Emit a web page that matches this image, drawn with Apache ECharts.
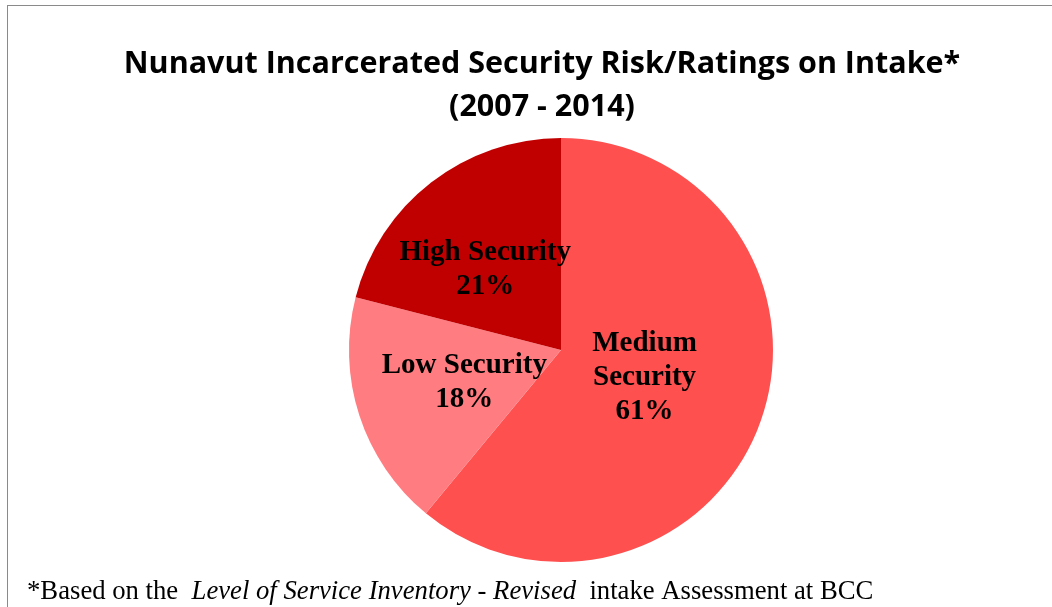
<!DOCTYPE html>
<html lang="en">
<head>
	<meta charset="UTF-8">
	<title>Nunavut Security Ratings</title>
	<style>
	body, div {
		margin: 0;
		padding: 0;
	}
	body {
		overflow: hidden;
		background: #fff;
	}
	#frame {
		position: absolute;
		left: 7px;
		top: 5px;
		width: 1100px;
		height: 700px;
		border: 1.5px solid #8a8a8a;
	}
	#echart {
		position: absolute;
		left: 0;
		top: 0;
		width: 1052px;
		height: 607px;
	}
	</style>
</head>
<body>
	<div id="frame"></div>
	<div id="echart"></div>

	<script src="https://cdn.jsdelivr.net/npm/echarts@6/dist/echarts.min.js"></script>

	<script>
	// 数据
	var categories = ['Medium\nSecurity', 'Low Security', 'High Security'];
	var shares = [61, 18, 21];
	var colors = ['#FF5050', '#FF7C80', '#C00000'];

	var pieData = categories.map(function (name, i) {
		return {
			name: name,
			value: shares[i],
			itemStyle: { color: colors[i] }
		};
	});

	// 标签微调 (与原图对齐)
	var labelShift = [[-19, -9], [7, -1], [-9, 6]];

	var myEchart = echarts.init(document.getElementById('echart'));

	var option = {
		backgroundColor: 'transparent',
		animation: false,
		title: {
			text: 'Nunavut Incarcerated Security Risk/Ratings on Intake*\n(2007 - 2014)',
			left: 537,
			textAlign: 'center',
			top: 38,
			textStyle: {
				fontFamily: 'Open Sans',
				fontWeight: 'bold',
				fontSize: 30.5,
				lineHeight: 43,
				color: '#000'
			}
		},
		graphic: [{
			type: 'text',
			left: 27,
			top: 578,
			style: {
				rich: {
					n: { fontFamily: 'Liberation Serif', fontSize: 26.7, fill: '#000' },
					i: { fontFamily: 'Liberation Serif', fontSize: 26.7, fontStyle: 'italic', fill: '#000' }
				},
				text: '{n|*Based on the  }{i|Level of Service Inventory - Revised}{n|  intake Assessment at BCC}'
			}
		}],
		series: [{
			type: 'pie',
			center: [561, 350],
			radius: [0, 212],
			startAngle: 90,
			clockwise: true,
			data: pieData,
			label: {
				show: true,
				position: 'inside',
				formatter: '{b}\n{d}%',
				fontFamily: 'Liberation Serif',
				fontWeight: 'bold',
				fontSize: 29,
				lineHeight: 34,
				color: '#000'
			},
			labelLayout: function (params) {
				var s = labelShift[params.dataIndex];
				return { dx: s[0], dy: s[1] };
			},
			labelLine: { show: false },
			emphasis: { disabled: true }
		}]
	};

	myEchart.setOption(option);
	</script>
</body>
</html>
